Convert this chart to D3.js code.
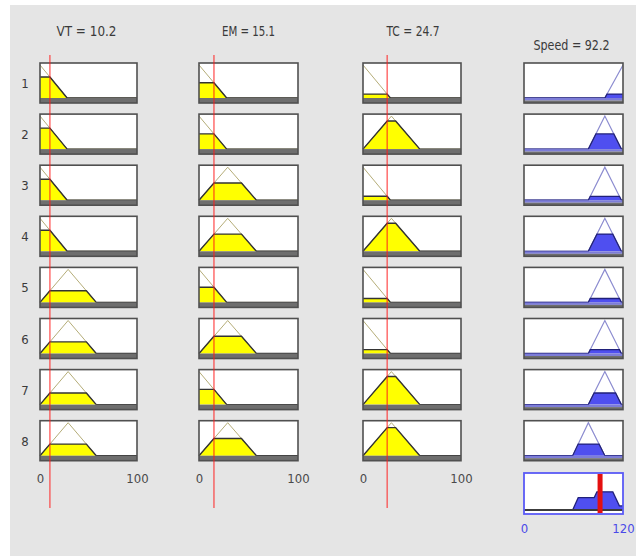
<!DOCTYPE html>
<html>
<head>
<meta charset="utf-8">
<script src="https://cdn.jsdelivr.net/npm/d3@7/dist/d3.min.js"></script>
<style>
  html, body { margin: 0; padding: 0; background: #ffffff; }
  svg { display: block; }
  text { font-family: "Liberation Sans Narrow", "DejaVu Sans Condensed", "Liberation Sans", sans-serif; }
</style>
</head>
<body>
<svg id="chart" width="641" height="556"></svg>
<script>
// ---------- data ----------
const rules = [1, 2, 3, 4, 5, 6, 7, 8];
const inputNames = ["VT", "EM", "TC"];
const inputValues = [10.2, 15.1, 24.7];
const inputTicks = [0, 100];
const outputName = "Speed";
const outputValue = 92.2;
const outputTicks = [0, 120];
// membership function used by each rule
const vtMF = ["low", "low", "low", "low", "med", "med", "med", "med"];
const emMF = ["low", "low", "med", "med", "low", "med", "low", "med"];
const tcMF = ["low", "med", "low", "med", "low", "low", "med", "med"];
const speedMF = ["vhigh", "high", "high", "high", "high", "high", "high", "med"];
// triangular MF parameters
const inputMFParams = { low: [-28, 0, 28], med: [0, 29, 58] };
const outputMFParams = { med: [59, 78, 98], high: [78, 98, 118], vhigh: [98, 120, 142] };

// ---------- helpers ----------
const trimf = (x, p) => {
  const [a, b, c] = p;
  if (x <= a || x >= c) return (x === b) ? 1 : 0;
  if (x <= b) return b === a ? 1 : (x - a) / (b - a);
  return c === b ? 1 : (c - x) / (c - b);
};
function breakpoints(p, level, lo, hi) {
  const [a, b, c] = p;
  const pts = [lo, hi, a, b, c, a + level * (b - a), c - level * (c - b)];
  return Array.from(new Set(pts.filter(v => v >= lo && v <= hi))).sort((m, n) => m - n);
}

const svg = d3.select("#chart");
const W = 641, H = 556;

// background panel
svg.append("rect").attr("x", 10).attr("y", 5).attr("width", 626).attr("height", H - 5).attr("fill", "#e5e5e5");

// layout scales
const colX = [[40, 137], [199, 298], [363, 461]];
const outX = [524, 623];
const yBand = d3.scaleBand().domain(rules).range([63, 63 + 8 * 51.1 - 11.1]).paddingInner(11.1 / 51.1).paddingOuter(0);
const boxH = yBand.bandwidth();
const aggTop = 473, aggH = 41;

const inputScales = colX.map(r => d3.scaleLinear().domain([0, 100]).range(r));
const outScale = d3.scaleLinear().domain([0, 120]).range(outX);

const mfAssign = [vtMF, emMF, tcMF];

// firing strengths
const strengths = rules.map((r, i) =>
  d3.min(inputNames.map((n, k) => trimf(inputValues[k], inputMFParams[mfAssign[k][i]]))));

// ---------- titles ----------
const titles = [
  { t: `${inputNames[0]} = ${inputValues[0]}`, x: (colX[0][0] + colX[0][1]) / 2 - 2, y: 36, w: 60 },
  { t: `${inputNames[1]} = ${inputValues[1]}`, x: (colX[1][0] + colX[1][1]) / 2, y: 36, w: 53 },
  { t: `${inputNames[2]} = ${inputValues[2]}`, x: (colX[2][0] + colX[2][1]) / 2 + 1, y: 36, w: 53 },
  { t: `${outputName} = ${outputValue}`, x: (outX[0] + outX[1]) / 2 - 2, y: 50, w: 76 }
];
svg.selectAll("text.title").data(titles).join("text")
  .attr("class", "title")
  .attr("x", d => d.x).attr("y", d => d.y)
  .attr("text-anchor", "middle")
  .attr("font-size", 14)
  .attr("fill", "#3a3a3a")
  .attr("textLength", d => d.w)
  .attr("lengthAdjust", "spacingAndGlyphs")
  .text(d => d.t);

// row labels
svg.selectAll("text.rowlab").data(rules).join("text")
  .attr("class", "rowlab")
  .attr("x", 25).attr("y", d => yBand(d) + boxH / 2 + 5)
  .attr("text-anchor", "middle")
  .attr("font-size", 13)
  .attr("fill", "#3a3a3a")
  .text(d => d);

// ---------- input cells ----------
inputNames.forEach((name, k) => {
  const xs = inputScales[k];
  const val = inputValues[k];
  rules.forEach((r, i) => {
    const t = yBand(r);
    const ys = d3.scaleLinear().domain([0, 1]).range([t + 35, t + 2]);
    const p = inputMFParams[mfAssign[k][i]];
    const level = trimf(val, p);
    const g = svg.append("g");
    g.append("rect").attr("x", xs(0)).attr("y", t).attr("width", xs(100) - xs(0)).attr("height", boxH)
      .attr("fill", "#ffffff");
    const bp = breakpoints(p, level, 0, 100);
    const clipped = bp.map(x => [x, Math.min(trimf(x, p), level)]);
    const fullPts = breakpoints(p, 1, 0, 100).map(x => [x, trimf(x, p)]);
    g.append("path")
      .attr("d", d3.area().x(d => xs(d[0])).y0(ys(0)).y1(d => ys(d[1]))(clipped))
      .attr("fill", "#ffff00");
    g.append("path")
      .attr("d", d3.line().x(d => xs(d[0])).y(d => ys(d[1]))(fullPts))
      .attr("fill", "none").attr("stroke", "#b5ad78").attr("stroke-width", 1);
    g.append("path")
      .attr("d", d3.line().x(d => xs(d[0])).y(d => ys(d[1]))(clipped.filter(d => d[1] > 0 || true)))
      .attr("fill", "none").attr("stroke", "#333333").attr("stroke-width", 1.4);
    g.append("rect").attr("x", xs(0)).attr("y", t + 35).attr("width", xs(100) - xs(0)).attr("height", boxH - 35)
      .attr("fill", "#6e6e6e");
    g.append("rect").attr("x", xs(0)).attr("y", t).attr("width", xs(100) - xs(0)).attr("height", boxH)
      .attr("fill", "none").attr("stroke", "#505050").attr("stroke-width", 1.6);
  });
  // axis
  const ax = d3.axisBottom(xs).tickValues(inputTicks).tickSize(0).tickPadding(0).tickFormat(d3.format("d"));
  const axg = svg.append("g").attr("transform", `translate(0, 474)`).call(ax);
  axg.select(".domain").remove();
  axg.selectAll("text").attr("font-size", 13).attr("fill", "#4a4a4a")
    .attr("font-family", "'Liberation Sans Narrow','DejaVu Sans Condensed',sans-serif");
});

// ---------- output cells ----------
const outClip = svg.append("defs");
rules.forEach((r, i) => {
  const t = yBand(r);
  const ys = d3.scaleLinear().domain([0, 1]).range([t + 35, t + 2]);
  const p = outputMFParams[speedMF[i]];
  const s = strengths[i];
  const id = "oc" + i;
  outClip.append("clipPath").attr("id", id).append("rect")
    .attr("x", outScale(0)).attr("y", t).attr("width", outScale(120) - outScale(0)).attr("height", boxH);
  const g = svg.append("g");
  g.append("rect").attr("x", outScale(0)).attr("y", t).attr("width", outScale(120) - outScale(0)).attr("height", boxH)
    .attr("fill", "#ffffff");
  const cg = g.append("g").attr("clip-path", `url(#${id})`);
  const bp = breakpoints(p, s, 0, 120);
  const clipped = bp.map(x => [x, Math.min(trimf(x, p), s)]);
  const fullPts = breakpoints(p, 1, 0, 120).map(x => [x, trimf(x, p)]);
  cg.append("path")
    .attr("d", d3.area().x(d => outScale(d[0])).y0(ys(0)).y1(d => ys(d[1]))(clipped))
    .attr("fill", "#4f4ff0");
  cg.append("path")
    .attr("d", d3.line().x(d => outScale(d[0])).y(d => ys(d[1]))(fullPts))
    .attr("fill", "none").attr("stroke", "#8c8cd0").attr("stroke-width", 1.2);
  cg.append("path")
    .attr("d", d3.line().x(d => outScale(d[0])).y(d => ys(d[1]))(clipped))
    .attr("fill", "none").attr("stroke", "#20207a").attr("stroke-width", 1.3);
  g.append("rect").attr("x", outScale(0)).attr("y", t + 35).attr("width", outScale(120) - outScale(0)).attr("height", 2.5)
    .attr("fill", "#7d7dd8");
  g.append("rect").attr("x", outScale(0)).attr("y", t + 37.5).attr("width", outScale(120) - outScale(0)).attr("height", boxH - 37.5)
    .attr("fill", "#6e6e6e");
  g.append("rect").attr("x", outScale(0)).attr("y", t).attr("width", outScale(120) - outScale(0)).attr("height", boxH)
    .attr("fill", "none").attr("stroke", "#505050").attr("stroke-width", 1.6);
});

// aggregated output
{
  const t = aggTop;
  const ys = d3.scaleLinear().domain([0, 1]).range([t + 37, t + 2]);
  const g = svg.append("g");
  g.append("rect").attr("x", outScale(0)).attr("y", t).attr("width", outScale(120) - outScale(0)).attr("height", aggH)
    .attr("fill", "#ffffff");
  const samples = d3.range(0, 120.001, 0.1).map(x =>
    [x, d3.max(rules.map((r, i) => Math.min(trimf(x, outputMFParams[speedMF[i]]), strengths[i])))]);
  g.append("path")
    .attr("d", d3.area().x(d => outScale(d[0])).y0(ys(0)).y1(d => ys(d[1]))(samples))
    .attr("fill", "#4f4ff0");
  g.append("path")
    .attr("d", d3.line().x(d => outScale(d[0])).y(d => ys(d[1]))(samples))
    .attr("fill", "none").attr("stroke", "#20207a").attr("stroke-width", 1.3);
  g.append("line").attr("x1", outScale(0)).attr("x2", outScale(120)).attr("y1", ys(0)).attr("y2", ys(0))
    .attr("stroke", "#3c3c3c").attr("stroke-width", 2);
  g.append("rect").attr("x", outScale(outputValue) - 2.5).attr("y", t + 1).attr("width", 5).attr("height", aggH - 2)
    .attr("fill", "#e41010");
  g.append("rect").attr("x", outScale(0)).attr("y", t).attr("width", outScale(120) - outScale(0)).attr("height", aggH)
    .attr("fill", "none").attr("stroke", "#5a5af5").attr("stroke-width", 1.8);
  const ax = d3.axisBottom(outScale).tickValues(outputTicks).tickSize(0).tickPadding(0).tickFormat(d3.format("d"));
  const axg = svg.append("g").attr("transform", `translate(0, 524)`).call(ax);
  axg.select(".domain").remove();
  axg.selectAll("text").attr("font-size", 13).attr("fill", "#4a4ae8")
    .attr("font-family", "'Liberation Sans Narrow','DejaVu Sans Condensed',sans-serif");
}

// red input-value lines
svg.selectAll("line.inval").data(inputValues).join("line")
  .attr("class", "inval")
  .attr("x1", (d, k) => inputScales[k](d)).attr("x2", (d, k) => inputScales[k](d))
  .attr("y1", 55).attr("y2", 508)
  .attr("stroke", "#ff1a1a").attr("stroke-opacity", 0.6).attr("stroke-width", 1.6);
</script>
</body>
</html>
